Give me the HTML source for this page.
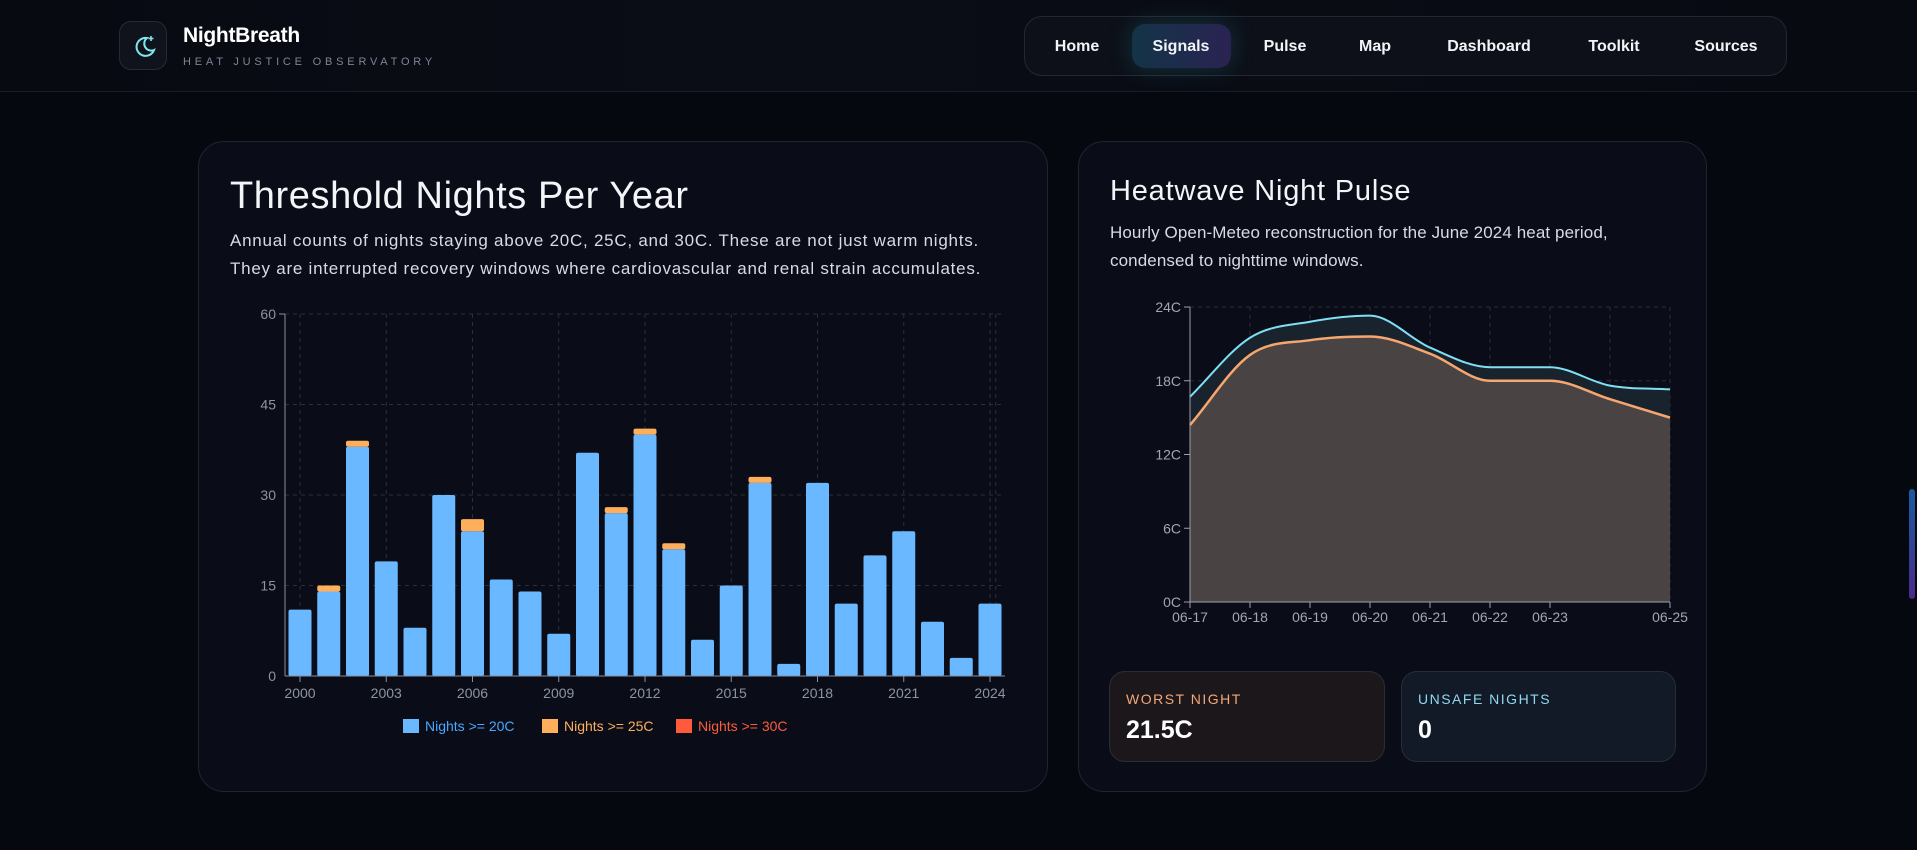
<!DOCTYPE html>
<html><head><meta charset="utf-8">
<style>
*{box-sizing:border-box;margin:0;padding:0}
body{width:1917px;height:850px;overflow:hidden;background:#06080f;font-family:"Liberation Sans",sans-serif;color:#e8ecf4;position:relative}
.hdr{position:absolute;left:0;top:0;width:1917px;height:92px;border-bottom:1px solid #1a1e28;background:linear-gradient(90deg,#080a12,#0b0d16 40%,#080a12)}
.logo{position:absolute;left:119px;top:21px;width:48px;height:49px;border:1px solid #262a35;border-radius:12px;background:#10131b}
.brand{position:absolute;left:183px;top:24px;font-size:21px;font-weight:bold;color:#fff;letter-spacing:-0.3px}
.sub{position:absolute;left:183px;top:56px;font-size:11px;letter-spacing:3.8px;color:#7d8595}
.nav{position:absolute;left:1024px;top:16px;width:763px;height:60px;border:1px solid #232733;border-radius:18px;background:#0d1018}
.nav a{position:absolute;top:0;line-height:60px;font-size:16px;font-weight:bold;color:#f2f4f8;transform:translateX(-50%);text-decoration:none}
.act{position:absolute;left:107px;top:7px;width:99px;height:44px;border-radius:13px;background:linear-gradient(90deg,#133447,#2a2352);box-shadow:0 0 24px rgba(40,160,180,.25)}
.card{position:absolute;top:141px;height:651px;border:1px solid #1f2431;border-radius:26px;background:#0a0d17}
h2{position:absolute;font-weight:normal;color:#f4f5f8}
p.d{position:absolute;font-size:17px;line-height:28px;color:#d6dbe6}
.stat{position:absolute;top:671px;height:91px;border-radius:16px;border:1px solid #2a2d36}
.stat .l{position:absolute;left:16px;top:19px;font-size:14px;letter-spacing:1.5px}
.stat .v{position:absolute;left:16px;top:44px;font-size:25px;font-weight:bold;color:#fff}
svg text{font-family:"Liberation Sans",sans-serif}
</style></head><body>
<div class="hdr"></div>
<div class="logo"><svg width="48" height="49"><path d="M27 16a9 9 0 1 0 7 12a7 7 0 0 1-7-12z" fill="none" stroke="#7fe6f0" stroke-width="2"/><path d="M31 14v5M28.5 16.5h5" stroke="#7fe6f0" stroke-width="1.6"/></svg></div>
<div class="brand">NightBreath</div>
<div class="sub">HEAT JUSTICE OBSERVATORY</div>
<div class="nav">
<div class="act"></div>
<a style="left:52px">Home</a>
<a style="left:156px">Signals</a>
<a style="left:260px">Pulse</a>
<a style="left:350px">Map</a>
<a style="left:464px">Dashboard</a>
<a style="left:589px">Toolkit</a>
<a style="left:701px">Sources</a>
</div>
<div style="position:absolute;left:1909px;top:489px;width:6px;height:110px;border-radius:3px;background:linear-gradient(#1a5aa0,#4a2a8a)"></div>

<div class="card" style="left:198px;width:850px">
<h2 style="left:31px;top:33px;font-size:38px;letter-spacing:0.6px">Threshold Nights Per Year</h2>
<p class="d" style="left:31px;top:85px;letter-spacing:0.75px">Annual counts of nights staying above 20C, 25C, and 30C. These are not just warm nights.<br>They are interrupted recovery windows where cardiovascular and renal strain accumulates.</p>
</div>
<div class="card" style="left:1078px;width:629px">
<h2 style="left:31px;top:33px;font-size:29px;letter-spacing:0.8px">Heatwave Night Pulse</h2>
<p class="d" style="left:31px;top:77px;letter-spacing:0.1px">Hourly Open-Meteo reconstruction for the June 2024 heat period,<br>condensed to nighttime windows.</p>
</div>
<div class="stat" style="left:1109px;width:276px;background:#1c171b"><div class="l" style="color:#f4a77a">WORST NIGHT</div><div class="v">21.5C</div></div>
<div class="stat" style="left:1401px;width:275px;background:#111a26"><div class="l" style="color:#8fd8f0">UNSAFE NIGHTS</div><div class="v">0</div></div>

<svg id="c" width="1917" height="850" style="position:absolute;left:0;top:0;pointer-events:none"></svg>
<script>
const years=[2000,2001,2002,2003,2004,2005,2006,2007,2008,2009,2010,2011,2012,2013,2014,2015,2016,2017,2018,2019,2020,2021,2022,2023,2024];
const n20=[11,14,38,19,8,30,24,16,14,7,37,27,40,21,6,15,32,2,32,12,20,24,9,3,12];
const n25=[0,1,1,0,0,0,2,0,0,0,0,1,1,1,0,0,1,0,0,0,0,0,0,0,0];
const n30=[0,0,0,0,0,0,0,0,0,0,0,0,0,0,0,0,0,0,0,0,0,0,0,0,0];
const yTicks=[0,15,30,45,60];
const xTickYears=[2000,2003,2006,2009,2012,2015,2018,2021,2024];
const days=[0,1,2,3,4,5,6,7,8];
const dayLabels=["06-17","06-18","06-19","06-20","06-21","06-22","06-23","","06-25"];
const maxT=[16.7,21.5,22.8,23.3,20.7,19.1,19.1,17.6,17.3];
const minT=[14.4,20.1,21.3,21.6,20.2,18.0,18.0,16.5,15.0];
const tTicks=[0,6,12,18,24];

const S=document.getElementById('c');const NS='http://www.w3.org/2000/svg';
function mk(t,a,p){const e=document.createElementNS(NS,t);for(const k in a)e.setAttribute(k,a[k]);(p||S).appendChild(e);return e;}
const bx=y=>300+(y-2000)*28.75, by=v=>676-v*362/60;
const g1=mk('g',{});


yTicks.forEach(t=>{const l=mk('line',{x1:285,x2:1005,y1:by(t),y2:by(t),stroke:'#2a2f3c','stroke-dasharray':'4 4'},g1);
const tx=mk('text',{x:276,y:by(t)+5,'text-anchor':'end','font-size':14,fill:'#8c93a3'},g1);tx.textContent=t;});
xTickYears.concat([2024.2]).forEach(y=>{const l=mk('line',{x1:bx(y),x2:bx(y),y1:314,y2:676,stroke:'#2a2f3c','stroke-dasharray':'4 4'},g1);});
years.forEach((y,i)=>{const x=bx(y)-11.5;let b=0;
[[n20,'#6ab8ff'],[n25,'#ffaf5c'],[n30,'#ff5a3c']].forEach(([arr,c],k)=>{const v=arr[i];if(!v)return;const r=mk('rect',{x:x,y:by(b+v),width:23,height:by(b)-by(b+v),fill:c,rx:2},g1);b+=v;});});
mk('line',{x1:285,x2:285,y1:314,y2:676,stroke:'#8a90a0'},g1);mk('line',{x1:285,x2:1005,y1:676,y2:676,stroke:'#8a90a0'},g1);
mk('line',{x1:279,x2:285,y1:314,y2:314,stroke:'#8a90a0'},g1);
xTickYears.forEach(y=>{mk('line',{x1:bx(y),x2:bx(y),y1:676,y2:682,stroke:'#8a90a0'},g1);const t=mk('text',{x:bx(y),y:698,'text-anchor':'middle','font-size':14,fill:'#8c93a3'},g1);t.textContent=y;});
[['Nights >= 20C','#6ab8ff','#4aa6ff',403],['Nights >= 25C','#ffaf5c','#ffaf5c',542],['Nights >= 30C','#ff5a3c','#ff5a3c',676]].forEach(([n,c,tc,x],k)=>{const g=mk('g',{},g1);mk('rect',{x:x,y:719,width:16,height:14,fill:c},g);const t=mk('text',{x:x+22,y:731,'font-size':14,fill:tc},g);t.textContent=n;});
const lx=d=>1190+d*60, ly=v=>602-v*295/24;
const g2=mk('g',{});


tTicks.forEach(t=>{mk('line',{x1:1190,x2:1670,y1:ly(t),y2:ly(t),stroke:'#2a2f3c','stroke-dasharray':'4 4'},g2);const tx=mk('text',{x:1181,y:ly(t)+5,'text-anchor':'end','font-size':14,fill:'#a0a6b4'},g2);tx.textContent=t+'C';});
days.forEach(d=>{if(d>0)mk('line',{x1:lx(d),x2:lx(d),y1:307,y2:602,stroke:'#2a2f3c','stroke-dasharray':'4 4'},g2);});
function path(arr){const p=arr.map((v,i)=>[lx(days[i]),ly(v)]);const n=p.length;const m=[];const dl=[];
for(let i=0;i<n-1;i++)dl.push((p[i+1][1]-p[i][1])/(p[i+1][0]-p[i][0]));
for(let i=0;i<n;i++){if(i==0)m.push(dl[0]);else if(i==n-1)m.push(dl[n-2]);else m.push(dl[i-1]*dl[i]<=0?0:(dl[i-1]+dl[i])/2);}
let s='M'+p[0][0]+','+p[0][1];for(let i=0;i<n-1;i++){const h=(p[i+1][0]-p[i][0])/3;s+=` C${p[i][0]+h},${p[i][1]+m[i]*h} ${p[i+1][0]-h},${p[i+1][1]-m[i+1]*h} ${p[i+1][0]},${p[i+1][1]}`;}return s;}
const a1=mk('path',{d:path(maxT)+` L${lx(8)},602 L${lx(0)},602Z`,fill:'#19232e'},g2);
const a2=mk('path',{d:path(minT)+` L${lx(8)},602 L${lx(0)},602Z`,fill:'#4a4343'},g2);
const l1=mk('path',{d:path(maxT),fill:'none',stroke:'#7fe0f4','stroke-width':2},g2);
const l2=mk('path',{d:path(minT),fill:'none',stroke:'#f6a66e','stroke-width':2.5},g2);
mk('line',{x1:1190,x2:1190,y1:307,y2:602,stroke:'#9aa0ac'},g2);mk('line',{x1:1190,x2:1670,y1:602,y2:602,stroke:'#9aa0ac'},g2);
tTicks.forEach(t=>mk('line',{x1:1184,x2:1190,y1:ly(t),y2:ly(t),stroke:'#9aa0ac'},g2));
days.forEach((d,i)=>{if(!dayLabels[i])return;mk('line',{x1:lx(d),x2:lx(d),y1:602,y2:608,stroke:'#9aa0ac'},g2);const t=mk('text',{x:lx(d),y:622,'text-anchor':'middle','font-size':14,fill:'#a0a6b4'},g2);t.textContent=dayLabels[i];});
</script>
</body></html>
